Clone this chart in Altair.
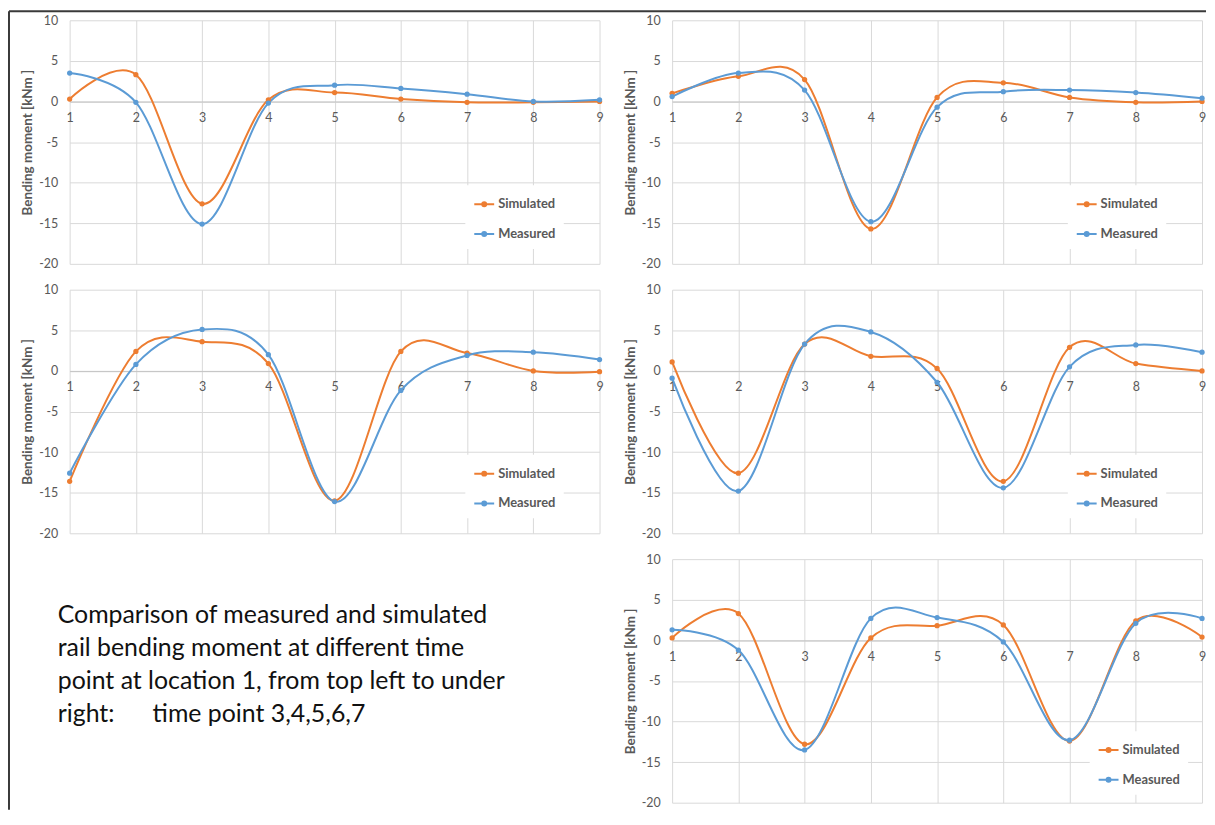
import altair as alt
import pandas as pd

# ---------------- data ----------------
positions = [1, 2, 3, 4, 5, 6, 7, 8, 9]
series_names = ["Simulated", "Measured"]
series_colors = ["#ED7D31", "#5B9BD5"]
y_ticks = [-20, -15, -10, -5, 0, 5, 10]
y_domain = [-20, 10]
y_title = "Bending moment [kNm ]"

tp3_simulated = [0.3, 3.3, -12.6, 0.2, 1.1, 0.3, -0.1, -0.1, 0.0]
tp3_measured = [3.5, -0.1, -15.1, -0.2, 2.0, 1.6, 0.9, 0.0, 0.2]
tp4_simulated = [1.0, 3.1, 2.7, -15.7, 0.5, 2.3, 0.5, -0.1, 0.0]
tp4_measured = [0.6, 3.5, 1.4, -14.8, -0.7, 1.2, 1.4, 1.1, 0.4]
tp5_simulated = [-13.6, 2.4, 3.6, 0.9, -16.0, 2.4, 2.2, 0.0, -0.1]
tp5_measured = [-12.6, 0.8, 5.1, 2.0, -16.1, -2.4, 1.9, 2.3, 1.4]
tp6_simulated = [1.1, -12.6, 3.3, 1.8, 0.3, -13.6, 2.9, 0.9, 0.0]
tp6_measured = [-0.9, -14.8, 3.3, 4.8, -1.4, -14.4, 0.5, 3.2, 2.3]
tp7_simulated = [0.3, 3.3, -12.8, 0.3, 1.8, 1.9, -12.4, 2.4, 0.4]
tp7_measured = [1.3, -1.2, -13.5, 2.7, 2.8, -0.2, -12.3, 2.1, 2.7]

caption_lines = [
    "Comparison of measured and simulated",
    "rail bending moment at different time",
    "point at location 1, from top left to under",
    "right:\u00a0\u00a0\u00a0\u00a0\u00a0\u00a0time point 3,4,5,6,7",
]

# ---------------- style ----------------
W, H = 533, 245
ROW_GAP, COL_GAP = 26, 73
FONT = "Lato"
GRID = "#D9D9D9"
ZERO = "#C4C4C4"
LABEL = "#595959"
LEGEND_SYMBOL = "M-1,0L1,0M-0.2,0A0.2,0.2 0 1,1 0.2,0A0.2,0.2 0 1,1 -0.2,0"


def make_panel(sim, meas, lx, ly):
    df = pd.DataFrame({
        "position": positions + positions,
        "moment": sim + meas,
        "series": [series_names[0]] * len(positions) + [series_names[1]] * len(positions),
    })
    zero_offset = -H * (0 - y_domain[0]) / (y_domain[1] - y_domain[0])
    x = alt.X(
        "position:Q", title=None,
        scale=alt.Scale(domain=[positions[0], positions[-1]], nice=False, zero=False),
        axis=alt.Axis(values=positions, format="d", grid=True, gridColor=GRID, gridWidth=1,
                      domain=True, domainColor=ZERO, domainWidth=1, ticks=False,
                      labelPadding=10, labelFlush=False, labelOverlap=False,
                      offset=zero_offset, labelColor=LABEL, labelFont=FONT, labelFontSize=12.5),
    )
    y = alt.Y(
        "moment:Q", title=y_title,
        scale=alt.Scale(domain=y_domain, nice=False, zero=False),
        axis=alt.Axis(values=y_ticks, labelExpr="datum.value + ''", grid=True, gridColor=GRID,
                      gridWidth=1, domain=False, ticks=False, labelPadding=12, labelFlush=False,
                      labelOverlap=False, labelColor=LABEL, labelFont=FONT, labelFontSize=12.5,
                      titleFont=FONT, titleFontSize=13.5, titleFontWeight="bold",
                      titleColor=LABEL, titlePadding=4),
    )
    color = alt.Color(
        "series:N",
        scale=alt.Scale(domain=series_names, range=series_colors),
        legend=alt.Legend(title=None, orient="none", legendX=lx, legendY=ly,
                          fillColor="white", padding=8, symbolType=LEGEND_SYMBOL,
                          symbolSize=400, symbolStrokeWidth=2, labelFont=FONT,
                          labelFontSize=13, labelFontWeight="bold", labelColor=LABEL,
                          rowPadding=12, labelOffset=3),
    )
    base = alt.Chart(df).encode(x=x, y=y, color=color)
    line = base.mark_line(interpolate="cardinal", strokeWidth=2)
    dots = base.mark_circle(size=28, opacity=1)
    return alt.layer(line, dots).properties(width=W, height=H)


p3 = make_panel(tp3_simulated, tp3_measured, 398, 166)
p4 = make_panel(tp4_simulated, tp4_measured, 398, 166)
p5 = make_panel(tp5_simulated, tp5_measured, 398, 166)
p6 = make_panel(tp6_simulated, tp6_measured, 398, 166)
p7 = make_panel(tp7_simulated, tp7_measured, 420, 173)

# caption panel
cap_df = pd.DataFrame({"idx": list(range(len(caption_lines))), "text": caption_lines})
caption = alt.Chart(cap_df).mark_text(
    align="left", baseline="middle", font=FONT, fontSize=25, color="#111111"
).encode(
    x=alt.value(-12),
    y=alt.Y("idx:Q", axis=None, scale=alt.Scale(domain=[-1.68, 5.67], reverse=True, nice=False, zero=False)),
    text="text:N",
)

row3_offset = 2 * (H + ROW_GAP)
frame_df = pd.DataFrame({"k": [0]})
frame_left = alt.Chart(frame_df).mark_rule(color="#3A3A3A", strokeWidth=2).encode(
    x=alt.value(-61), y=alt.value(-row3_offset - 9), y2=alt.value(H + 7)
)
frame_top = alt.Chart(frame_df).mark_rule(color="#3A3A3A", strokeWidth=2).encode(
    x=alt.value(-61), x2=alt.value(2 * W + COL_GAP + 4), y=alt.value(-row3_offset - 9)
)
caption_panel = alt.layer(caption, frame_left, frame_top).properties(width=W, height=H)

chart = alt.concat(
    p3, p4, p5, p6, caption_panel, p7,
    columns=2,
    spacing=alt.RowColnumber(row=ROW_GAP, column=COL_GAP),
    bounds="flush",
).resolve_scale(color="independent").resolve_legend(color="independent").configure_view(
    stroke=None
).properties(padding=0, background="white")

chart.save("out.html", embed_options={"renderer": "svg", "actions": False})
